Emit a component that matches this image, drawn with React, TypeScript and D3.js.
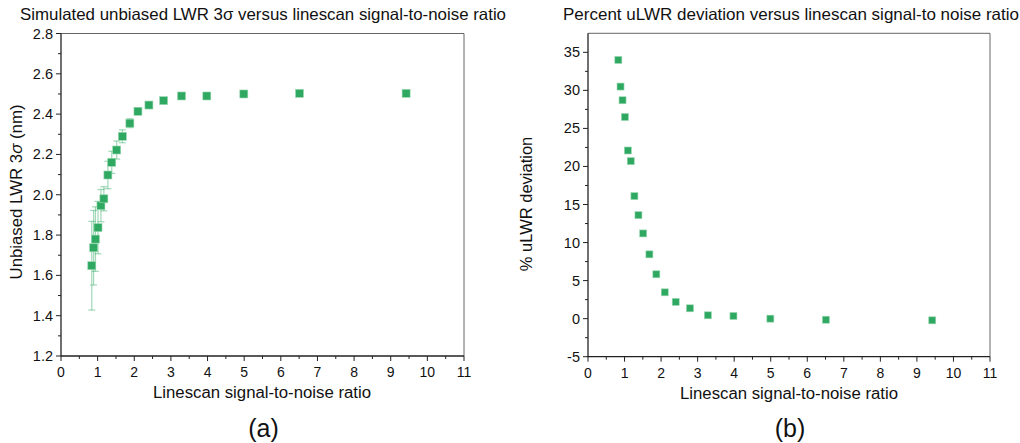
import React from "react";
import * as d3 from "d3";

const snrA = [0.84, 0.89, 0.94, 1.01, 1.09, 1.17, 1.28, 1.385, 1.52, 1.675, 1.88, 2.1, 2.4, 2.8, 3.29, 3.98, 4.99, 6.51, 9.42];
const lwr = [1.648, 1.737, 1.78, 1.837, 1.946, 1.98, 2.098, 2.161, 2.222, 2.29, 2.355, 2.414, 2.445, 2.467, 2.49, 2.49, 2.5, 2.503, 2.503];
const lwrErr = [0.22, 0.185, 0.16, 0.13, 0.08, 0.06, 0.068, 0.055, 0.045, 0.032, 0.022, 0.016, 0.01, 0.006, 0.004, 0.004, 0.003, 0.003, 0.003];
const snrB = [0.83, 0.89, 0.945, 1.01, 1.09, 1.17, 1.27, 1.38, 1.51, 1.68, 1.87, 2.1, 2.4, 2.79, 3.28, 3.98, 4.99, 6.51, 9.42];
const deviation = [34.0, 30.5, 28.7, 26.5, 22.1, 20.7, 16.1, 13.6, 11.2, 8.45, 5.83, 3.46, 2.2, 1.36, 0.44, 0.35, 0.0, -0.14, -0.22];
const xTicks = [0, 1, 2, 3, 4, 5, 6, 7, 8, 9, 10, 11];
const yTicksA = [1.2, 1.4, 1.6, 1.8, 2.0, 2.2, 2.4, 2.6, 2.8];
const yTicksB = [-5, 0, 5, 10, 15, 20, 25, 30, 35];

const GREEN = "#2fa862";
const FONT = "'Liberation Sans', Arial, sans-serif";

type PanelProps = {
  left: number;
  right: number;
  top: number;
  bottom: number;
  xs: number[];
  ys: number[];
  errs?: number[];
  yDomain: [number, number];
  yTicks: number[];
  yMinor: number[];
  yFmt: (v: number) => string;
  title: string;
  titleX: number;
  titleLen: number;
  xLabelX: number;
  yLabel: React.ReactNode;
  yLabelX: number;
  yLabelY: number;
  yLabelLen?: number;
  tag: string;
  marker: number;
};

function Panel(p: PanelProps) {
  const x = d3.scaleLinear().domain([0, 11]).range([p.left, p.right]);
  const y = d3.scaleLinear().domain(p.yDomain).range([p.bottom, p.top]);
  const xMinor = d3.range(0.5, 11, 1);
  const cx = (p.left + p.right) / 2;
  return (
    <g fontFamily={FONT}>
      <text x={p.titleX} y={20} fontSize={16.5} textAnchor="middle" fill="#111" textLength={p.titleLen} lengthAdjust="spacingAndGlyphs">{p.title}</text>
      <line x1={p.left} x2={p.right} y1={p.top} y2={p.top} stroke="#666" strokeWidth={1} />
      <line x1={p.right} x2={p.right} y1={p.top} y2={p.bottom} stroke="#666" strokeWidth={1} />
      <line x1={p.left} x2={p.left} y1={p.top} y2={p.bottom + 0.5} stroke="#222" strokeWidth={1.3} />
      <line x1={p.left} x2={p.right} y1={p.bottom} y2={p.bottom} stroke="#222" strokeWidth={1.3} />
      {xTicks.map((t) => (
        <g key={"xt" + t}>
          <line x1={x(t)} x2={x(t)} y1={p.bottom} y2={p.bottom + 5} stroke="#222" strokeWidth={1} />
          <text x={x(t)} y={p.bottom + 21} fontSize={14} textAnchor="middle" fill="#111">{t}</text>
        </g>
      ))}
      {xMinor.map((t) => (
        <line key={"xm" + t} x1={x(t)} x2={x(t)} y1={p.bottom} y2={p.bottom + 3} stroke="#222" strokeWidth={1} />
      ))}
      {p.yTicks.map((t) => (
        <g key={"yt" + t}>
          <line x1={p.left - 5} x2={p.left} y1={y(t)} y2={y(t)} stroke="#222" strokeWidth={1} />
          <text x={p.left - 8} y={y(t) + 5} fontSize={14.5} textAnchor="end" fill="#111">{p.yFmt(t)}</text>
        </g>
      ))}
      {p.yMinor.map((t) => (
        <line key={"ym" + t} x1={p.left - 3} x2={p.left} y1={y(t)} y2={y(t)} stroke="#222" strokeWidth={1} />
      ))}
      <text x={p.xLabelX} y={p.bottom + 42} fontSize={16} textAnchor="middle" fill="#111" textLength={218} lengthAdjust="spacingAndGlyphs">Linescan signal-to-noise ratio</text>
      <text x={cx + 1} y={437} fontSize={25} textAnchor="middle" fill="#111">{p.tag}</text>
      <text
        transform={`translate(${p.yLabelX},${p.yLabelY}) rotate(-90)`}
        fontSize={16.5}
        textAnchor="middle"
        fill="#111"
        textLength={p.yLabelLen}
        lengthAdjust={p.yLabelLen ? "spacingAndGlyphs" : undefined}
      >
        {p.yLabel}
      </text>
      {p.errs &&
        p.xs.map((v, i) => {
          const e = p.errs![i];
          if (e < 0.008) return null;
          const px = x(v);
          const y1 = y(p.ys[i] + e);
          const y2 = y(p.ys[i] - e);
          return (
            <g key={"e" + i} stroke={GREEN} strokeOpacity={0.45} strokeWidth={1.2}>
              <line x1={px} x2={px} y1={y1} y2={y2} />
              <line x1={px - 3.5} x2={px + 3.5} y1={y1} y2={y1} />
              <line x1={px - 3.5} x2={px + 3.5} y1={y2} y2={y2} />
            </g>
          );
        })}
      {p.xs.map((v, i) => (
        <rect
          key={"m" + i}
          x={x(v) - p.marker / 2}
          y={y(p.ys[i]) - p.marker / 2}
          width={p.marker}
          height={p.marker}
          fill={GREEN}
          stroke="#9bd8b2"
          strokeWidth={0.6}
        />
      ))}
    </g>
  );
}

export default function App() {
  const yMinorA = d3.range(1.3, 2.8, 0.2);
  const yMinorB = d3.range(-2.5, 37.5, 5);
  return (
    <svg width={1020} height={443} style={{ display: "block", position: "absolute", left: 0, top: 0 }}>
      <rect width={1020} height={443} fill="#fff" />
      <Panel
        left={61}
        right={464}
        top={33.5}
        bottom={356}
        xs={snrA}
        ys={lwr}
        errs={lwrErr}
        yDomain={[1.2, 2.8]}
        yTicks={yTicksA}
        yMinor={yMinorA}
        yFmt={(v) => v.toFixed(1)}
        title="Simulated unbiased LWR 3σ versus linescan signal-to-noise ratio"
        titleX={263}
        titleLen={486}
        xLabelX={262}
        yLabel={<>Unbiased LWR 3<tspan fontStyle="italic">σ</tspan> (nm)</>}
        yLabelX={22}
        yLabelY={192}
        yLabelLen={175}
        tag="(a)"
        marker={8}
      />
      <Panel
        left={588}
        right={990}
        top={33.3}
        bottom={356.7}
        xs={snrB}
        ys={deviation}
        yDomain={[-5, 37.5]}
        yTicks={yTicksB}
        yMinor={yMinorB}
        yFmt={(v) => String(v)}
        title="Percent uLWR deviation versus linescan signal-to noise ratio"
        titleX={791}
        titleLen={456}
        xLabelX={789}
        yLabel="% uLWR deviation"
        yLabelX={532}
        yLabelY={204}
        tag="(b)"
        marker={7}
      />
    </svg>
  );
}
